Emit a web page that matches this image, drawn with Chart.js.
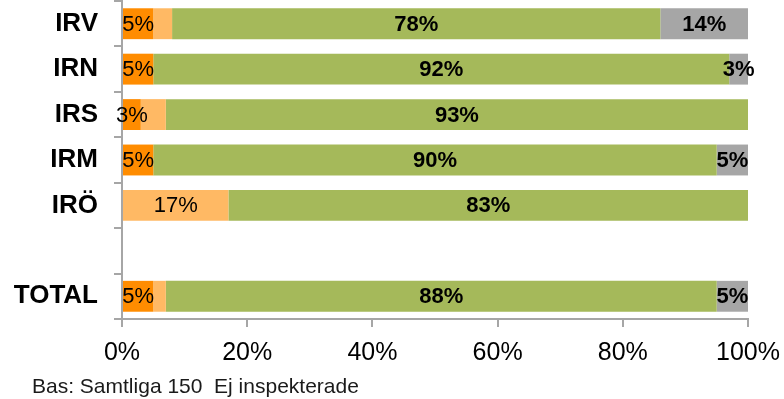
<!DOCTYPE html>
<html>
<head>
<meta charset="utf-8">
<script src="https://cdn.jsdelivr.net/npm/chart.js@4.4.1/dist/chart.umd.min.js"></script>
<style>
  html, body { margin: 0; padding: 0; background: #fff; }
  #wrap { width: 784px; height: 399px; position: relative; }
</style>
</head>
<body>
<div id="wrap"><canvas id="c" width="784" height="399"></canvas></div>
<script>
// Units (empty slot separates the units from the total)
const categories = ['IRV', 'IRN', 'IRS', 'IRM', 'IRÖ', '', 'TOTAL'];

// Share of inspected items per outcome, in percent
const darkOrangeValues  = [5, 5, 3, 5, 0, null, 5];
const lightOrangeValues = [3, 0, 4, 0, 17, null, 2];
const greenValues       = [78, 92, 93, 90, 83, null, 88];
const grayValues        = [14, 3, 0, 5, 0, null, 5];

const xTickValues = [0, 20, 40, 60, 80, 100];
const footnote = 'Bas: Samtliga 150  Ej inspekterade';

const FONT = '"Liberation Sans", Arial, sans-serif';
const AXIS_GRAY = '#a6a6a6';

// Value labels drawn in the middle of each segment
const segmentLabels = {
  id: 'segmentLabels',
  afterDatasetsDraw(chart) {
    const ctx = chart.ctx;
    chart.data.datasets.forEach((ds, di) => {
      const meta = chart.getDatasetMeta(di);
      if (meta.hidden) return;
      meta.data.forEach((el, i) => {
        const v = ds.data[i];
        if (v == null || v < ds.labelMin) return;
        const p = el.getCenterPoint();
        ctx.save();
        ctx.font = (ds.labelBold ? 'bold ' : '') + '22px ' + FONT;
        ctx.fillStyle = '#000';
        ctx.textAlign = 'center';
        ctx.textBaseline = 'middle';
        ctx.fillText(v + '%', p.x, p.y + 1);
        ctx.restore();
      });
    });
  }
};

// Source note under the axis
const footnotePlugin = {
  id: 'footnote',
  afterDraw(chart) {
    const ctx = chart.ctx;
    ctx.save();
    ctx.font = '21px ' + FONT;
    ctx.fillStyle = '#1a1a1a';
    ctx.textAlign = 'left';
    ctx.textBaseline = 'alphabetic';
    ctx.fillText(footnote, 32, 393);
    ctx.restore();
  }
};

new Chart(document.getElementById('c'), {
  type: 'bar',
  data: {
    labels: categories,
    datasets: [
      { label: 'a', data: darkOrangeValues,  backgroundColor: 'rgb(255,140,0)',   labelMin: 1, labelBold: false },
      { label: 'b', data: lightOrangeValues, backgroundColor: 'rgb(255,185,100)', labelMin: 5, labelBold: false },
      { label: 'c', data: greenValues,       backgroundColor: 'rgb(165,185,90)',  labelMin: 1, labelBold: true },
      { label: 'd', data: grayValues,        backgroundColor: 'rgb(166,166,166)', labelMin: 1, labelBold: true }
    ]
  },
  options: {
    indexAxis: 'y',
    responsive: false,
    animation: false,
    maintainAspectRatio: false,
    layout: { padding: { top: 1, right: 36, bottom: 0, left: 0 } },
    datasets: { bar: { barPercentage: 0.68, categoryPercentage: 1.0, borderWidth: 0 } },
    plugins: {
      legend: { display: false },
      tooltip: { enabled: false }
    },
    scales: {
      x: {
        stacked: true,
        min: 0,
        max: 100,
        afterBuildTicks(axis) { axis.ticks = xTickValues.map(v => ({ value: v })); },
        afterFit(axis) {
          axis.height = 80;
          axis.paddingLeft = 0;
          axis.paddingRight = 0;
        },
        ticks: {
          callback: v => v + '%',
          color: '#000',
          font: { family: FONT, size: 25 },
          padding: 11,
          maxRotation: 0
        },
        grid: { drawOnChartArea: false, drawTicks: true, tickLength: 8, color: AXIS_GRAY, lineWidth: 2 },
        border: { display: true, color: AXIS_GRAY, width: 2 }
      },
      y: {
        stacked: true,
        afterFit(axis) {
          axis.width = 122;
          axis.paddingTop = 0;
          axis.paddingBottom = 0;
        },
        ticks: {
          color: '#000',
          font: { family: FONT, size: 26, weight: 'bold' },
          padding: 16
        },
        grid: { drawOnChartArea: false, drawTicks: true, tickLength: 8, color: AXIS_GRAY, lineWidth: 2, offset: true },
        border: { display: true, color: AXIS_GRAY, width: 2 }
      }
    }
  },
  plugins: [segmentLabels, footnotePlugin]
});
</script>
</body>
</html>
